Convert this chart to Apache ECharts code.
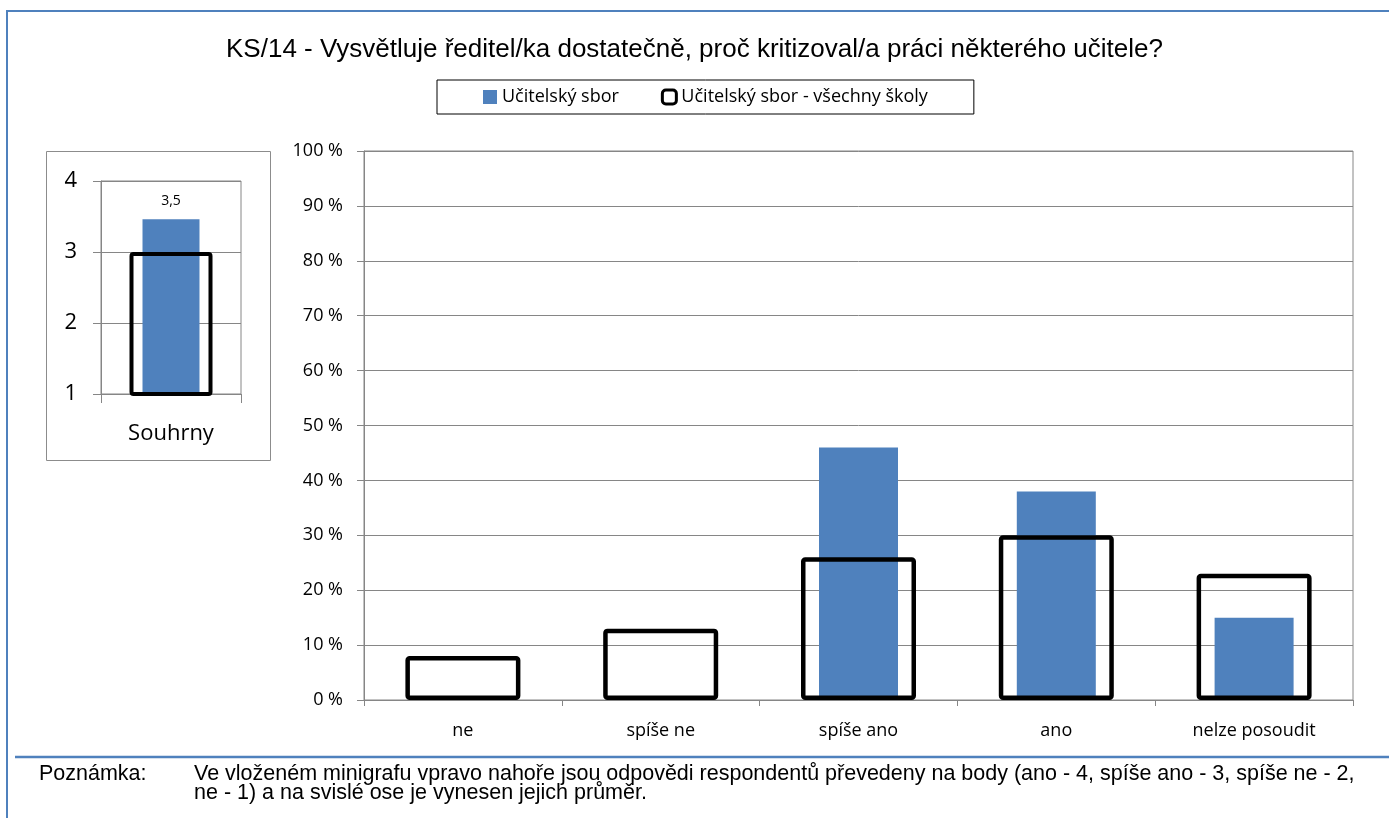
<!DOCTYPE html>
<html>
<head>
<meta charset="utf-8">
<title>KS/14</title>
<script src="https://cdn.jsdelivr.net/npm/echarts@6/dist/echarts.min.js"></script>
<style>
  html, body { margin: 0; padding: 0; background: #fff; }
  #main { width: 1389px; height: 818px; }
</style>
</head>
<body>
<div id="main"></div>
<script>
// data
var categories = ['ne', 'spíše ne', 'spíše ano', 'ano', 'nelze posoudit'];
var schoolValues = [0, 0, 46, 38, 15];          // Učitelský sbor (%)
var allSchoolsValues = [8, 13, 26, 30, 23];     // Učitelský sbor - všechny školy (%)

var summaryCategory = ['Souhrny'];
var summarySchool = [3.46];
var summaryAll = [3.0];

var seriesNames = ['Učitelský sbor', 'Učitelský sbor - všechny školy'];
var titleText = 'KS/14 - Vysvětluje ředitel/ka dostatečně, proč kritizoval/a práci některého učitele?';
var noteLabel = 'Poznámka:';
var noteLines = [
  'Ve vloženém minigrafu vpravo nahoře jsou odpovědi respondentů převedeny na body (ano - 4, spíše ano - 3, spíše ne - 2,',
  'ne - 1) a na svislé ose je vynesen jejich průměr.'
];

var blue = '#4F81BD';
var gridGray = '#868686';
var labelFont = 'Open Sans';
var noteFont = '21.5px "Liberation Sans"';

var chart = echarts.init(document.getElementById('main'));

var option = {
  animation: false,
  title: {
    text: titleText,
    left: 'center',
    top: 37,
    padding: 0,
    textStyle: { fontFamily: 'Liberation Sans', fontSize: 26, fontWeight: 'normal', color: '#000' }
  },
  legend: {
    left: 437,
    top: 80,
    padding: [8, 46, 8, 46],
    borderColor: '#000',
    borderWidth: 1,
    itemGap: 42,
    itemWidth: 14,
    itemHeight: 14,
    textStyle: { fontFamily: labelFont, fontSize: 18, color: '#000' },
    data: [
      { name: seriesNames[0], icon: 'rect', itemStyle: { color: blue, borderWidth: 0 } },
      { name: seriesNames[1], icon: 'roundRect', itemStyle: { color: '#fff', borderColor: '#000', borderWidth: 3 } }
    ]
  },
  grid: [
    // main chart
    { left: 364, right: 36, top: 151, bottom: 118, show: true, borderColor: gridGray, borderWidth: 1 },
    // mini chart
    { left: 101, right: 1148, top: 181, bottom: 424, show: true, borderColor: gridGray, borderWidth: 1 }
  ],
  xAxis: [
    {
      gridIndex: 0, type: 'category', data: categories,
      axisLine: { lineStyle: { color: gridGray, width: 1 } },
      axisTick: { show: true, length: 6, lineStyle: { color: gridGray } },
      axisLabel: { margin: 22, color: '#000', fontFamily: labelFont, fontSize: 18 },
      splitLine: { show: false }
    },
    { gridIndex: 0, type: 'category', data: categories, show: false },
    {
      gridIndex: 1, type: 'category', data: summaryCategory,
      axisLine: { lineStyle: { color: gridGray, width: 1 } },
      axisTick: { show: true, length: 9, lineStyle: { color: gridGray } },
      axisLabel: { margin: 29, color: '#000', fontFamily: labelFont, fontSize: 22 },
      splitLine: { show: false }
    },
    { gridIndex: 1, type: 'category', data: summaryCategory, show: false }
  ],
  yAxis: [
    {
      gridIndex: 0, type: 'value', min: 0, max: 100, interval: 10,
      axisLine: { show: true, lineStyle: { color: gridGray, width: 1 } },
      axisTick: { show: true, length: 7, lineStyle: { color: gridGray } },
      axisLabel: { margin: 21, color: '#000', fontFamily: labelFont, fontSize: 18, formatter: '{value} %' },
      splitLine: { lineStyle: { color: gridGray, width: 1 } }
    },
    {
      gridIndex: 1, type: 'value', min: 1, max: 4, interval: 1,
      axisLine: { show: true, lineStyle: { color: gridGray, width: 1 } },
      axisTick: { show: true, length: 8, lineStyle: { color: gridGray } },
      axisLabel: { margin: 24, color: '#000', fontFamily: labelFont, fontSize: 22 },
      splitLine: { lineStyle: { color: gridGray, width: 1 } }
    }
  ],
  series: [
    {
      name: seriesNames[0], type: 'bar', xAxisIndex: 0, yAxisIndex: 0,
      data: schoolValues, barWidth: 79,
      itemStyle: { color: blue }
    },
    {
      name: seriesNames[1], type: 'bar', xAxisIndex: 1, yAxisIndex: 0,
      data: allSchoolsValues, barWidth: 115,
      itemStyle: { color: 'rgba(0,0,0,0)', borderColor: '#000', borderWidth: 4.5, borderRadius: 2 }
    },
    {
      name: seriesNames[0], type: 'bar', xAxisIndex: 2, yAxisIndex: 1,
      data: summarySchool, barWidth: 57,
      itemStyle: { color: blue },
      label: {
        show: true, position: 'top', distance: 3,
        color: '#000', fontFamily: labelFont, fontSize: 14,
        backgroundColor: '#fff', padding: [8, 6],
        formatter: function (p) { return p.value.toFixed(1).replace('.', ','); }
      }
    },
    {
      name: seriesNames[1], type: 'bar', xAxisIndex: 3, yAxisIndex: 1,
      data: summaryAll, barWidth: 83,
      itemStyle: { color: 'rgba(0,0,0,0)', borderColor: '#000', borderWidth: 4, borderRadius: 2 }
    }
  ],
  graphic: [
    { type: 'rect', silent: true, shape: { x: 7, y: 11, width: 1400, height: 900 },
      style: { fill: 'none', stroke: blue, lineWidth: 2 } },
    { type: 'rect', silent: true, shape: { x: 46.5, y: 151.5, width: 224, height: 309 },
      style: { fill: 'none', stroke: '#8c8c8c', lineWidth: 1 } },
    { type: 'line', silent: true, shape: { x1: 15, y1: 757, x2: 1389, y2: 757 },
      style: { stroke: blue, lineWidth: 2.5 } },
    { type: 'text', silent: true, x: 39, y: 774,
      style: { text: noteLabel, font: noteFont, fill: '#000', verticalAlign: 'middle' } },
    { type: 'text', silent: true, x: 194, y: 774,
      style: { text: noteLines[0], font: noteFont, fill: '#000', verticalAlign: 'middle' } },
    { type: 'text', silent: true, x: 194, y: 793,
      style: { text: noteLines[1], font: noteFont, fill: '#000', verticalAlign: 'middle' } }
  ]
};

chart.setOption(option);
</script>
</body>
</html>
